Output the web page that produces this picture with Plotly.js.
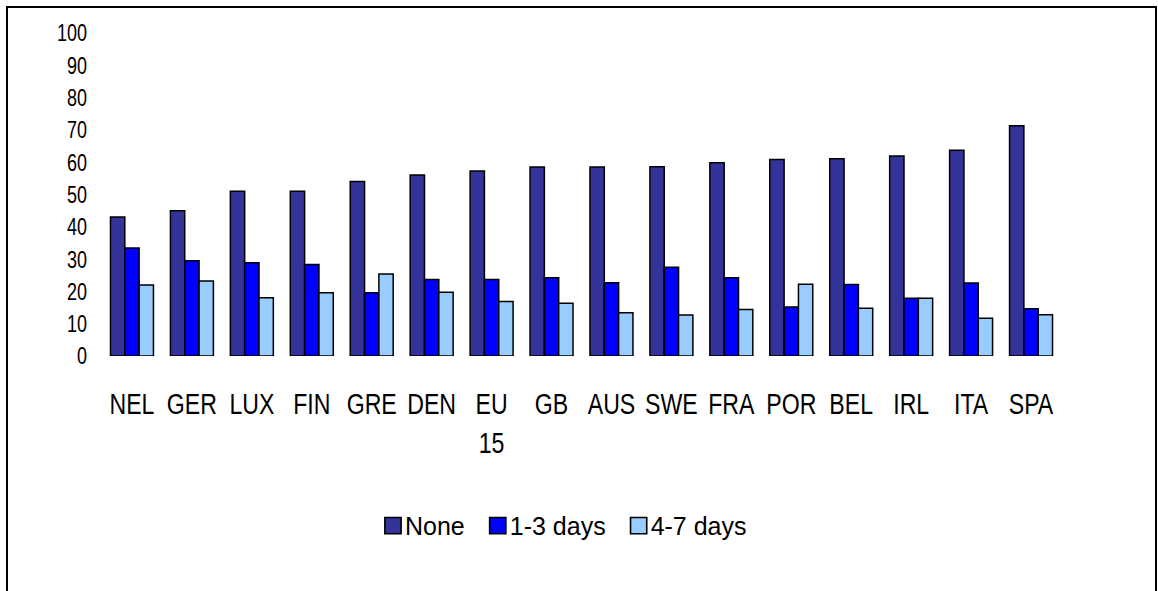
<!DOCTYPE html>
<html>
<head>
<meta charset="utf-8">
<script src="https://cdn.plot.ly/plotly-3.0.1.min.js"></script>
<style>
  html, body { margin: 0; padding: 0; background: #fff; }
  #chart { position: absolute; left: 0; top: 0; width: 1158px; height: 591px; }
  #frame { position: absolute; left: 6px; top: 6px; width: 1147px; height: 700px;
           border: 2px solid #000; border-bottom: none; pointer-events: none; }
</style>
</head>
<body>
<div id="chart"></div>
<div id="frame"></div>
<script>
const countries = ['NEL', 'GER', 'LUX', 'FIN', 'GRE', 'DEN', 'EU<br>15', 'GB',
                   'AUS', 'SWE', 'FRA', 'POR', 'BEL', 'IRL', 'ITA', 'SPA'];

const none     = [43, 45, 51, 51, 54, 56, 57.3, 58.5, 58.5, 58.6, 59.8, 60.8, 61.1, 61.9, 63.7, 71.3];
const days1to3 = [33.4, 29.5, 28.9, 28.3, 19.6, 23.7, 23.7, 24.2, 22.7, 27.5, 24.2, 15.2, 22.1, 17.9, 22.6, 14.6];
const days4to7 = [22, 23.2, 18, 19.6, 25.4, 19.7, 16.9, 16.3, 13.4, 12.7, 14.4, 22.2, 14.8, 17.9, 11.7, 12.8];

const fontName = '"Liberation Sans", Arial, sans-serif';

function series(name, values, color) {
  return {
    type: 'bar',
    name: name,
    x: countries,
    y: values,
    marker: {color: color, line: {color: '#000', width: 1.5}},
    hoverinfo: 'x+y'
  };
}

const data = [
  series('None', none, '#333399'),
  series('1-3 days', days1to3, '#0000ff'),
  series('4-7 days', days4to7, '#99ccff')
];

const layout = {
  width: 1158,
  height: 591,
  margin: {l: 102, r: 97, t: 33, b: 235},
  paper_bgcolor: '#fff',
  plot_bgcolor: '#fff',
  barmode: 'group',
  bargap: 0.283,
  bargroupgap: 0,
  font: {family: fontName, color: '#000'},
  xaxis: {
    type: 'category',
    showgrid: false,
    showline: false,
    zeroline: false,
    ticks: '',
    tickangle: 0,
    ticklabelstandoff: 27,
    tickfont: {size: 30, family: fontName}
  },
  yaxis: {
    range: [0, 100],
    dtick: 10,
    showgrid: false,
    showline: false,
    zeroline: false,
    ticks: '',
    ticklabelstandoff: 14,
    tickfont: {size: 24, family: fontName}
  },
  showlegend: true,
  legend: {
    orientation: 'h',
    x: 0.476,
    xanchor: 'center',
    y: -0.526,
    yanchor: 'middle',
    font: {size: 25, family: fontName},
    itemwidth: 30,
    tracegroupgap: 0
  }
};

// the original uses a condensed face; squeeze the glyphs horizontally
function squeeze(selector, factor) {
  document.querySelectorAll(selector).forEach(function (t) {
    const lines = t.querySelectorAll('tspan.line');
    const parts = lines.length ? lines : [t];
    parts.forEach(function (p) {
      const w = p.getComputedTextLength();
      if (w > 0) {
        p.setAttribute('textLength', (w * factor).toFixed(1));
        p.setAttribute('lengthAdjust', 'spacingAndGlyphs');
      }
    });
  });
}

Plotly.newPlot('chart', data, layout, {displayModeBar: false, staticPlot: true}).then(function () {
  squeeze('#chart .xtick text', 0.77);
  squeeze('#chart .ytick text', 0.75);
  // legend boxes are a bit bigger in the original and sit close to the text
  document.querySelectorAll('#chart .legendpoints path').forEach(function (p) {
    const t = p.getAttribute('transform') || '';
    p.setAttribute('transform', t + ' translate(8,0) scale(1.35)');
    p.style.strokeWidth = '1.2px';
  });
});
</script>
</body>
</html>
